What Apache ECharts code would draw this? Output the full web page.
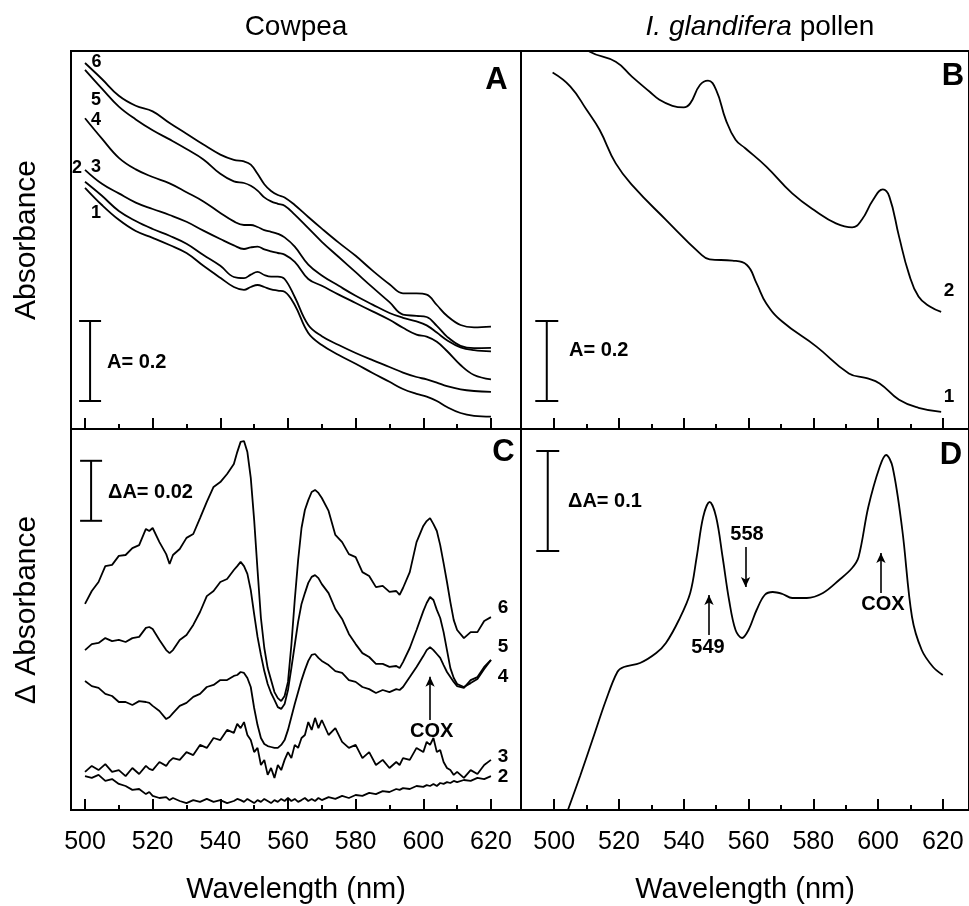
<!DOCTYPE html>
<html>
<head>
<meta charset="utf-8">
<title>Cowpea / I. glandifera spectra</title>
<script src="https://cdn.jsdelivr.net/npm/echarts@6/dist/echarts.min.js"></script>
<style>
  html, body { margin: 0; padding: 0; background: #fff; }
  #chart { width: 969px; height: 906px; }
</style>
</head>
<body>
<div id="chart"></div>
<script>
// ---- panel A: cowpea absorbance spectra (A units, arbitrary zero) ----
const wlA = [500, 505, 510, 515, 520, 525, 530, 535, 540, 544, 547, 549, 551, 553, 555, 557, 559, 562, 566, 570, 575, 580, 585, 590, 594, 598, 601, 604, 607, 611, 615, 620];
const absA6 = [0.915, 0.875, 0.833, 0.808, 0.794, 0.765, 0.738, 0.711, 0.686, 0.673, 0.669, 0.661, 0.638, 0.612, 0.595, 0.585, 0.579, 0.560, 0.530, 0.501, 0.466, 0.433, 0.396, 0.362, 0.339, 0.339, 0.336, 0.310, 0.283, 0.260, 0.254, 0.256];
const absA5 = [0.898, 0.851, 0.806, 0.774, 0.747, 0.724, 0.700, 0.674, 0.638, 0.619, 0.615, 0.608, 0.596, 0.579, 0.569, 0.563, 0.558, 0.536, 0.502, 0.468, 0.430, 0.392, 0.354, 0.317, 0.286, 0.283, 0.280, 0.258, 0.231, 0.208, 0.202, 0.203];
const absA4 = [0.777, 0.726, 0.678, 0.649, 0.630, 0.614, 0.592, 0.569, 0.540, 0.519, 0.510, 0.510, 0.505, 0.497, 0.493, 0.488, 0.479, 0.456, 0.411, 0.384, 0.358, 0.333, 0.311, 0.290, 0.278, 0.269, 0.259, 0.241, 0.222, 0.204, 0.197, 0.194];
const absA3 = [0.648, 0.613, 0.589, 0.566, 0.550, 0.535, 0.518, 0.496, 0.475, 0.459, 0.450, 0.454, 0.456, 0.449, 0.444, 0.440, 0.436, 0.418, 0.375, 0.358, 0.336, 0.315, 0.294, 0.273, 0.253, 0.236, 0.231, 0.218, 0.195, 0.160, 0.135, 0.124];
const absA2 = [0.618, 0.583, 0.545, 0.520, 0.500, 0.483, 0.463, 0.435, 0.408, 0.380, 0.377, 0.386, 0.393, 0.385, 0.381, 0.381, 0.375, 0.330, 0.260, 0.232, 0.210, 0.190, 0.172, 0.155, 0.141, 0.130, 0.124, 0.116, 0.107, 0.099, 0.095, 0.093];
const absA1 = [0.603, 0.560, 0.523, 0.495, 0.478, 0.460, 0.440, 0.408, 0.378, 0.355, 0.348, 0.355, 0.360, 0.355, 0.349, 0.346, 0.343, 0.310, 0.240, 0.210, 0.185, 0.163, 0.140, 0.118, 0.100, 0.088, 0.081, 0.070, 0.055, 0.040, 0.033, 0.031];

// ---- panel B: I. glandifera pollen absorbance ----
const wlB2 = [500, 505, 511, 519, 524, 529.5, 532.5, 536.5, 540, 542, 545, 547.5, 550, 553, 556, 559, 565.5, 573.5, 581, 587, 592, 595, 598.5, 601.5, 603.5, 606.5, 609.5, 612.5, 616, 619.5];
const absB2 = [1.023, 0.983, 0.943, 0.918, 0.881, 0.843, 0.823, 0.808, 0.804, 0.814, 0.860, 0.871, 0.848, 0.773, 0.723, 0.702, 0.656, 0.589, 0.543, 0.514, 0.504, 0.523, 0.573, 0.599, 0.581, 0.481, 0.389, 0.331, 0.306, 0.293];
const wlB1 = [499.5, 505, 510, 514, 519, 524.5, 534.5, 545, 548, 555, 559.5, 562.5, 565.5, 570.5, 581, 591, 596.5, 600.5, 606.5, 612.5, 619.5];
const absB1 = [0.891, 0.856, 0.798, 0.748, 0.664, 0.606, 0.523, 0.439, 0.424, 0.421, 0.410, 0.364, 0.314, 0.268, 0.206, 0.139, 0.127, 0.114, 0.073, 0.053, 0.043];

// ---- panel C: cowpea difference spectra (milli-delta-A) ----
const wlC = [500, 502, 504, 506, 508, 510, 512, 514, 516, 518, 519, 520, 522, 524, 525, 526, 528, 530, 532, 534, 536, 538, 540, 542, 544, 545, 546, 547, 548, 549, 550, 551, 552, 553, 554, 555, 556, 557, 558, 559, 560, 561, 562, 563, 564, 565, 566, 567, 568, 569, 570, 572, 574, 576, 578, 580, 582, 584, 586, 588, 590, 592, 593, 594, 596, 598, 600, 601, 602, 603, 604, 605, 606, 607, 608, 609, 610, 612, 614, 616, 618, 620];
const dC6 = [68.7, 73.0, 76.0, 81.3, 81.7, 84.7, 85.0, 87.3, 88.3, 93.7, 93.0, 94.0, 89.3, 85.3, 82.0, 85.0, 87.0, 90.7, 92.0, 97.3, 102.7, 107.7, 109.3, 112.0, 115.3, 119.3, 122.7, 123.0, 119.3, 110.7, 96.7, 80.0, 64.0, 54.0, 47.3, 43.3, 39.3, 37.3, 36.3, 38.0, 42.7, 55.0, 70.0, 83.3, 94.0, 100.0, 103.3, 106.0, 106.7, 105.7, 104.0, 99.7, 91.7, 89.3, 85.3, 84.3, 79.3, 78.0, 74.3, 74.7, 72.7, 73.0, 71.7, 74.0, 79.3, 89.3, 94.7, 96.3, 97.3, 95.3, 93.0, 88.3, 82.3, 76.0, 69.3, 63.3, 60.0, 57.3, 59.3, 59.3, 63.0, 64.3];
const dC5 = [53.3, 55.3, 55.7, 57.3, 56.3, 56.7, 56.0, 57.3, 57.7, 60.7, 61.0, 60.3, 56.7, 53.3, 52.3, 53.3, 56.7, 58.3, 61.7, 66.0, 71.3, 73.0, 76.0, 77.0, 80.0, 81.3, 82.7, 81.3, 78.7, 73.3, 65.3, 57.7, 51.7, 46.3, 42.0, 39.0, 36.7, 34.3, 33.7, 35.3, 40.0, 47.3, 55.0, 62.7, 68.7, 72.3, 75.7, 77.7, 78.3, 77.3, 75.3, 72.3, 67.0, 63.7, 58.7, 55.3, 52.3, 51.0, 48.7, 48.7, 47.7, 48.0, 47.3, 49.3, 54.0, 60.0, 66.3, 69.0, 71.0, 70.0, 66.7, 64.0, 59.3, 53.3, 47.3, 44.0, 42.0, 41.0, 42.3, 43.7, 47.0, 50.0];
const dC4 = [43.0, 41.3, 40.7, 38.7, 38.0, 36.0, 36.0, 35.0, 36.3, 36.0, 35.7, 34.7, 33.0, 30.3, 31.0, 32.3, 34.7, 35.7, 37.7, 38.7, 41.0, 41.7, 43.3, 43.3, 44.7, 45.0, 46.0, 45.7, 44.0, 41.0, 34.0, 28.3, 24.0, 22.0, 21.3, 21.0, 20.7, 20.7, 21.7, 23.3, 26.7, 31.0, 35.3, 39.3, 43.3, 46.7, 49.7, 51.7, 52.0, 50.7, 49.7, 48.3, 46.3, 45.7, 43.3, 42.7, 41.0, 40.3, 39.0, 40.0, 39.3, 40.3, 40.0, 41.0, 44.3, 47.7, 51.3, 53.3, 54.3, 53.3, 52.0, 50.7, 48.3, 46.0, 44.3, 42.7, 41.3, 40.7, 43.3, 44.3, 47.7, 50.0];
const dC3 = [12.7, 14.7, 13.3, 15.3, 12.7, 13.3, 11.3, 14.0, 12.0, 14.7, 13.7, 13.3, 16.0, 14.7, 16.3, 17.3, 16.7, 19.3, 18.3, 21.7, 20.7, 24.0, 23.3, 26.7, 25.7, 28.7, 27.3, 29.3, 25.0, 23.3, 19.3, 20.7, 15.0, 16.7, 11.7, 14.0, 10.7, 15.0, 13.3, 16.7, 19.3, 17.3, 21.7, 20.7, 24.0, 25.0, 29.3, 26.7, 30.7, 27.3, 30.0, 25.0, 27.3, 22.7, 20.7, 21.7, 17.3, 19.3, 15.0, 16.7, 14.0, 16.0, 15.0, 17.3, 16.7, 20.7, 19.3, 22.7, 21.7, 24.0, 19.3, 20.0, 16.0, 14.0, 13.3, 11.7, 12.7, 10.7, 13.3, 12.0, 15.0, 16.7];
const dC2 = [11.3, 10.7, 11.7, 9.7, 10.3, 8.7, 8.0, 6.7, 7.0, 5.3, 6.0, 4.7, 4.0, 4.3, 3.3, 4.0, 3.0, 2.3, 3.3, 2.7, 3.7, 2.7, 3.3, 2.3, 3.0, 3.7, 3.3, 2.7, 3.7, 3.0, 2.3, 3.3, 2.7, 3.7, 3.0, 2.3, 3.3, 2.7, 3.7, 3.0, 4.0, 3.0, 3.7, 2.7, 3.3, 4.0, 3.0, 3.7, 3.0, 4.0, 3.3, 4.3, 3.7, 4.7, 4.0, 5.0, 4.7, 5.7, 5.3, 6.3, 6.0, 7.0, 6.7, 7.3, 7.0, 8.0, 7.7, 8.3, 8.0, 8.7, 8.0, 9.0, 8.7, 9.3, 9.0, 9.7, 9.3, 10.0, 9.7, 10.7, 10.3, 11.3];

// ---- panel D: I. glandifera pollen difference spectrum (delta-A) ----
const wlD = [500, 504, 508, 512, 516, 519.5, 521.5, 526.5, 531.5, 534.5, 538.5, 542, 544, 546, 548, 550, 552, 554, 556, 558, 560, 562.5, 565, 567.5, 570.5, 573.5, 578, 583, 588, 592, 594, 597, 600.5, 602.5, 604.5, 607.5, 610.5, 613.5, 617, 620];
const dD = [-0.038, -0.002, 0.034, 0.072, 0.110, 0.138, 0.143, 0.147, 0.157, 0.167, 0.190, 0.217, 0.253, 0.293, 0.308, 0.293, 0.253, 0.210, 0.180, 0.172, 0.180, 0.200, 0.215, 0.218, 0.216, 0.212, 0.212, 0.217, 0.230, 0.242, 0.253, 0.303, 0.343, 0.355, 0.343, 0.280, 0.193, 0.160, 0.143, 0.135];

// axis ticks
const majorTicks = [500, 520, 540, 560, 580, 600, 620];
const minorTicks = [510, 530, 550, 570, 590, 610];

// scale bars: [wavelength, low, high]
const barA = [501.5, 0.07, 0.27];
const barB = [497.7, 0.07, 0.27];
const barC = [501.8, 96.4, 116.4];
const barD = [498.0, 0.259, 0.359];

// arrows: [wavelength, from, to]
const arrowsD = [[547.8, 0.175, 0.215], [559.1, 0.263, 0.223], [600.9, 0.217, 0.257]];
const arrowsC = [[602.0, 30.0, 44.4]];

const FONT = '"Liberation Sans", Arial, Helvetica, sans-serif';
const chart = echarts.init(document.getElementById('chart'));

function pairs(xs, ys) {
  return xs.map((x, i) => [x, ys[i]]);
}

function curve(g, xs, ys, smooth, extra) {
  return Object.assign({
    type: 'line', xAxisIndex: 2 * g, yAxisIndex: g,
    data: pairs(xs, ys), showSymbol: false, smooth: smooth,
    lineStyle: { color: '#000', width: 1.8 }, silent: true, clip: true
  }, extra || {});
}

function arrowMarks(list) {
  return {
    markLine: {
      silent: true, symbol: ['none', 'arrow'], symbolSize: [7, 10],
      label: { show: false },
      lineStyle: { color: '#000', width: 1.6, type: 'solid' },
      data: list.map(a => [{ coord: [a[0], a[1]] }, { coord: [a[0], a[2]] }])
    }
  };
}

function scaleBar(g, bar, halfW) {
  return {
    type: 'custom', xAxisIndex: 2 * g, yAxisIndex: g, silent: true,
    data: [bar],
    renderItem: function (params, api) {
      const lo = api.coord([api.value(0), api.value(1)]);
      const hi = api.coord([api.value(0), api.value(2)]);
      const st = { stroke: '#000', lineWidth: 2 };
      return {
        type: 'group', children: [
          { type: 'line', shape: { x1: lo[0], y1: lo[1], x2: hi[0], y2: hi[1] }, style: st },
          { type: 'line', shape: { x1: lo[0] - halfW, y1: lo[1], x2: lo[0] + halfW, y2: lo[1] }, style: st },
          { type: 'line', shape: { x1: hi[0] - halfW, y1: hi[1], x2: hi[0] + halfW, y2: hi[1] }, style: st }
        ]
      };
    }
  };
}

function xAxes(g, min, max, labels) {
  const tickStyle = { color: '#000', width: 2 };
  return [
    {
      type: 'value', gridIndex: g, min: min, max: max, position: 'bottom',
      axisLine: { show: false, onZero: false }, splitLine: { show: false },
      axisTick: { show: true, inside: true, length: 11, customValues: majorTicks, lineStyle: tickStyle },
      axisLabel: {
        show: labels, customValues: majorTicks, margin: 20,
        color: '#000', fontSize: 25, fontFamily: FONT
      }
    },
    {
      type: 'value', gridIndex: g, min: min, max: max, position: 'bottom',
      axisLine: { show: false, onZero: false }, splitLine: { show: false },
      axisTick: { show: true, inside: true, length: 5, customValues: minorTicks, lineStyle: tickStyle },
      axisLabel: { show: false }
    }
  ];
}

function yAxis(g, max) {
  return { type: 'value', gridIndex: g, min: 0, max: max, show: false };
}

function txt(text, x, y, size, bold, align, extra) {
  return Object.assign({
    type: 'text', x: x, y: y, silent: true,
    style: {
      text: text, fill: '#000', fontSize: size, fontFamily: FONT,
      fontWeight: bold ? 'bold' : 'normal',
      align: align || 'center', verticalAlign: 'middle'
    }
  }, extra || {});
}

const gridBase = { show: true, borderColor: '#000', borderWidth: 2, backgroundColor: 'transparent' };
const lMinX = 495.86, lMaxX = 628.88;
const rMinX = 489.74, rMaxX = 628.1;

chart.setOption({
  animation: false,
  grid: [
    Object.assign({ left: 71, top: 51, width: 450, height: 378 }, gridBase),
    Object.assign({ left: 521, top: 51, width: 449, height: 378 }, gridBase),
    Object.assign({ left: 71, top: 429, width: 450, height: 381 }, gridBase),
    Object.assign({ left: 521, top: 429, width: 449, height: 381 }, gridBase)
  ],
  xAxis: [].concat(
    xAxes(0, lMinX, lMaxX, false),
    xAxes(1, rMinX, rMaxX, false),
    xAxes(2, lMinX, lMaxX, true),
    xAxes(3, rMinX, rMaxX, true)
  ),
  yAxis: [yAxis(0, 0.945), yAxis(1, 0.945), yAxis(2, 127), yAxis(3, 0.381)],
  series: [
    curve(0, wlA, absA6, 0.4), curve(0, wlA, absA5, 0.4), curve(0, wlA, absA4, 0.4),
    curve(0, wlA, absA3, 0.4), curve(0, wlA, absA2, 0.4), curve(0, wlA, absA1, 0.4),
    curve(1, wlB2, absB2, 0.45), curve(1, wlB1, absB1, 0.45),
    curve(2, wlC, dC6, false), curve(2, wlC, dC5, false), curve(2, wlC, dC4, false, arrowMarks(arrowsC)),
    curve(2, wlC, dC3, false), curve(2, wlC, dC2, false),
    curve(3, wlD, dD, 0.35, arrowMarks(arrowsD)),
    scaleBar(0, barA, 11), scaleBar(1, barB, 11.5), scaleBar(2, barC, 11), scaleBar(3, barD, 11.5)
  ],
  graphic: [
    txt('Cowpea', 296, 27, 28, false),
    {
      type: 'text', x: 760, y: 27, silent: true,
      style: {
        text: '{i|I. glandifera} pollen', fill: '#000', fontSize: 28, fontFamily: FONT,
        align: 'center', verticalAlign: 'middle',
        rich: { i: { fontStyle: 'italic', fontSize: 28, fontFamily: FONT, fill: '#000' } }
      }
    },
    txt('Absorbance', 27, 240, 30, false, 'center', { rotation: Math.PI / 2 }),
    txt('\u0394 Absorbance', 27, 610, 30, false, 'center', { rotation: Math.PI / 2 }),
    txt('Wavelength (nm)', 296, 890, 29, false),
    txt('Wavelength (nm)', 745, 890, 29, false),
    txt('A', 496.5, 80, 31, true), txt('B', 953, 76, 31, true),
    txt('C', 503.5, 452, 31, true), txt('D', 951, 455, 31, true),
    txt('A= 0.2', 107, 362, 20, true, 'left'), txt('A= 0.2', 569, 350, 20, true, 'left'),
    txt('\u0394A= 0.02', 108, 492, 20, true, 'left'), txt('\u0394A= 0.1', 568, 501, 20, true, 'left'),
    txt('6', 96.5, 62, 18, true), txt('5', 96, 100, 18, true), txt('4', 96, 120, 18, true),
    txt('3', 96, 167, 18, true), txt('2', 77, 168, 18, true), txt('1', 96, 213, 18, true),
    txt('2', 949, 291, 19, true), txt('1', 949, 397, 19, true),
    txt('6', 503, 608, 19, true), txt('5', 503, 647, 19, true), txt('4', 503, 677, 19, true),
    txt('3', 503, 757, 19, true), txt('2', 503, 777, 19, true),
    txt('COX', 431.7, 731, 20, true),
    txt('549', 708, 647, 20, true), txt('558', 747, 534, 20, true), txt('COX', 883, 604, 20, true)
  ]
});
</script>
</body>
</html>
